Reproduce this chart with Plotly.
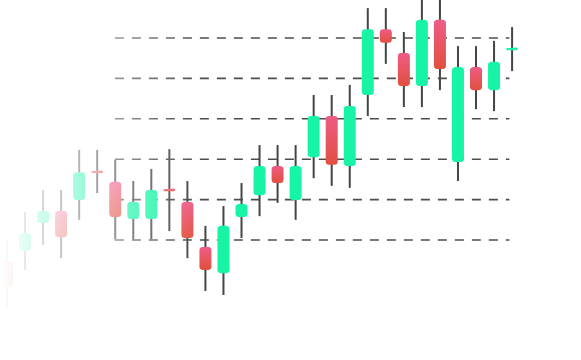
import numpy as np
import plotly.graph_objects as go

# ---- data (OHLC per session) ----
idx = list(range(1, 30))
opens  = [94.8, 97.3, 104.2, 107.2, 109.9, 117.1, 114.4, 105.2, 105.2, 112.5,
          109.4, 98.3, 91.8, 105.7, 111.1, 118.3, 109.9, 120.5, 130.7, 118.3,
          135.9, 152.2, 146.3, 138.1, 154.5, 119.3, 142.8, 137.1, 147.2]
highs  = [100.0, 106.9, 112.4, 112.4, 122.3, 122.3, 119.8, 114.6, 117.6, 122.5,
          114.6, 103.5, 108.4, 114.1, 123.5, 123.5, 123.5, 135.9, 135.9, 138.4,
          157.4, 157.4, 151.5, 160.5, 160.5, 148.0, 148.0, 149.3, 152.7]
lows   = [83.2, 92.6, 98.8, 95.5, 105.0, 111.6, 100.2, 100.2, 100.2, 102.2,
          95.5, 87.4, 86.4, 100.5, 105.9, 109.2, 105.0, 115.3, 113.4, 112.9,
          130.7, 143.6, 132.9, 132.9, 137.1, 114.6, 132.4, 131.9, 141.8]
closes = [88.4, 101.7, 107.2, 100.7, 116.8, 116.7, 105.7, 109.4, 112.4, 112.3,
          100.5, 92.6, 103.5, 108.9, 118.3, 114.1, 118.3, 130.7, 118.6, 133.2,
          152.2, 148.8, 138.1, 154.5, 142.3, 142.8, 137.1, 144.1, 147.4]
grid_levels = [100, 110, 120, 130, 140, 150]

# ---- styling ----
W, H = 581, 360
X_RANGE = [0.612, 32.82]
Y_RANGE = [70.30, 159.41]
GREEN = "#18f4a6"
RED_TOP = "#ee5c86"
RED_BOT = "#e24f3e"
WICK = "#454545"
GRID = "#4d4d4d"

px_x = W / (X_RANGE[1] - X_RANGE[0])   # pixels per x unit
px_y = H / (Y_RANGE[1] - Y_RANGE[0])   # pixels per y unit
half_w = 6.0 / px_x
min_h = 2.6 / px_y


def rounded_rect(xc, y0, y1, r_px=3.0, n=6):
    if y1 - y0 < min_h:
        m = (y0 + y1) / 2
        y0, y1 = m - min_h / 2, m + min_h / 2
    x0, x1 = xc - half_w, xc + half_w
    hpx = (y1 - y0) * px_y
    r = min(r_px, hpx / 2, 6.0)
    rx, ry = r / px_x, r / px_y
    xs, ys = [], []
    corners = [(x1 - rx, y1 - ry, 0, 90), (x0 + rx, y1 - ry, 90, 180),
               (x0 + rx, y0 + ry, 180, 270), (x1 - rx, y0 + ry, 270, 360)]
    for cx, cy, a0, a1 in corners:
        t = np.radians(np.linspace(a0, a1, n))
        xs.extend(cx + rx * np.cos(t))
        ys.extend(cy + ry * np.sin(t))
    xs.append(xs[0]); ys.append(ys[0])
    return xs, ys


fig = go.Figure()

# wicks
wx, wy = [], []
for i, h, l in zip(idx, highs, lows):
    wx += [i, i, None]
    wy += [l, h, None]
fig.add_trace(go.Scatter(x=wx, y=wy, mode="lines",
                         line=dict(color=WICK, width=2), hoverinfo="skip"))

# bodies
for i, o, c in zip(idx, opens, closes):
    xs, ys = rounded_rect(i, min(o, c), max(o, c))
    if c >= o:
        fig.add_trace(go.Scatter(x=xs, y=ys, mode="lines", fill="toself",
                                 fillcolor=GREEN, line=dict(width=0),
                                 hoverinfo="skip"))
    else:
        fig.add_trace(go.Scatter(x=xs, y=ys, mode="lines", fill="toself",
                                 line=dict(width=0),
                                 fillgradient=dict(type="vertical",
                                                   colorscale=[[0, RED_BOT], [1, RED_TOP]]),
                                 hoverinfo="skip"))

# left fade overlay
fade_x1 = X_RANGE[0] + 200 / px_x
fig.add_trace(go.Scatter(
    x=[X_RANGE[0] - 1, fade_x1, fade_x1, X_RANGE[0] - 1, X_RANGE[0] - 1],
    y=[Y_RANGE[0] - 5, Y_RANGE[0] - 5, Y_RANGE[1] + 5, Y_RANGE[1] + 5, Y_RANGE[0] - 5],
    mode="lines", fill="toself", line=dict(width=0),
    fillgradient=dict(type="horizontal", start=X_RANGE[0], stop=fade_x1,
                      colorscale=[[0, "rgba(255,255,255,1)"], [1, "rgba(255,255,255,0)"]]),
    hoverinfo="skip"))

# dashed grid lines
for g in grid_levels:
    fig.add_shape(type="line", xref="x", yref="y", x0=6.98, x1=28.85, y0=g, y1=g,
                  line=dict(color=GRID, width=1.6, dash="9px,8px"), layer="below")

fig.update_layout(
    width=W, height=H, margin=dict(l=0, r=0, t=0, b=0),
    paper_bgcolor="white", plot_bgcolor="white", showlegend=False,
    xaxis=dict(range=X_RANGE, visible=False, showgrid=False, zeroline=False),
    yaxis=dict(range=Y_RANGE, visible=False, showgrid=False, zeroline=False),
)

fig.write_html("out.html")
